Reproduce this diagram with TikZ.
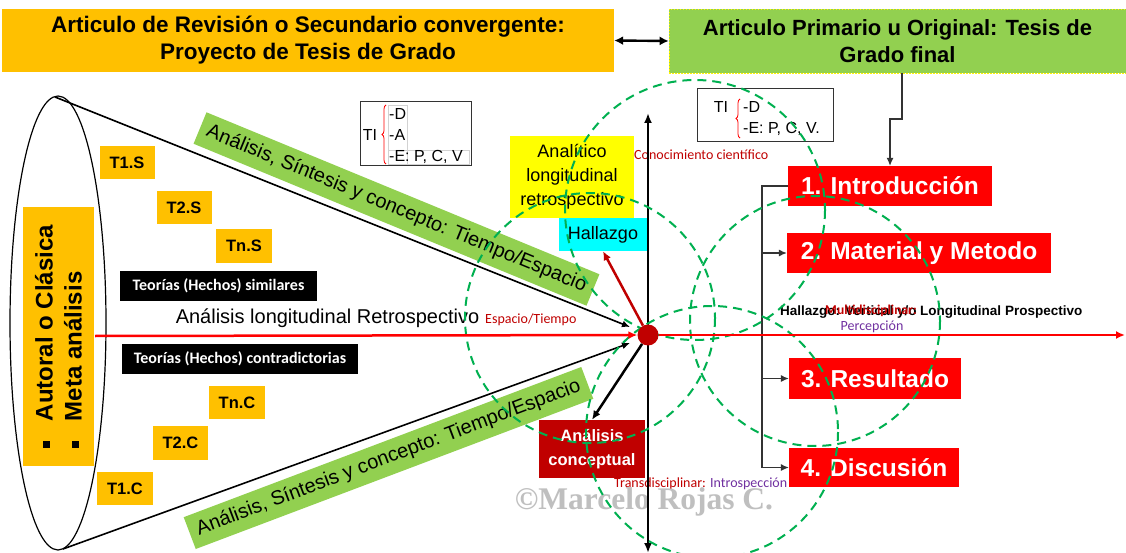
\documentclass[tikz,border=0pt]{standalone}
\usepackage{fontspec}
\setmainfont{Liberation Sans}
\newfontfamily\calib{Carlito}
\newfontfamily\wmfont{Liberation Serif}
\usetikzlibrary{arrows.meta,decorations.pathreplacing}
\definecolor{orangeA}{HTML}{FFC000}
\definecolor{greenA}{HTML}{92D050}
\definecolor{greenD}{HTML}{00B050}
\definecolor{redA}{HTML}{FF0000}
\definecolor{redD}{HTML}{C00000}
\definecolor{purpleA}{HTML}{7030A0}
\definecolor{wmgray}{HTML}{BFBFBF}
\definecolor{cyanA}{HTML}{00FFFF}
\definecolor{yellowA}{HTML}{FFFF00}
\newcommand\fsz[2]{\fontsize{#1}{#2}\selectfont}
\begin{document}
\begin{tikzpicture}[x=1pt,y=-1pt,
  bx/.style={inner sep=0pt, align=center},
  tbox/.style={bx, fill=orangeA, minimum width=55pt, minimum height=33pt, font=\fsz{16.5}{18}\bfseries},
  kbox/.style={bx, fill=black, text=white, minimum height=30pt, font=\calib\fsz{16}{18}\bfseries},
  rbox/.style={bx, fill=redA, text=white, minimum height=40pt, font=\fsz{24.5}{28}\bfseries},
  band/.style={bx, fill=greenA, minimum width=425pt, minimum height=34pt, font=\fsz{20}{22}},
  lbl/.style={inner sep=0pt, font=\calib\fsz{14}{16}},
  titxt/.style={inner sep=0pt, anchor=west, font=\fsz{16}{17}},
  gc/.style={draw=greenD, line width=2pt, dash pattern=on 9pt off 6pt},
  conn/.style={draw=black!80, line width=1.1pt},
  ah/.style={-{Latex[length=8pt,width=7pt]}},
  coneline/.style={line width=1.6pt, ah},
]
\useasboundingbox (0,0) rectangle (1126,553);
\clip (0,0) rectangle (1126,553);
\fill[white] (0,0) rectangle (1126,553);

% ---------- cone ----------
\draw[line width=1.2pt] (58,323) ellipse [x radius=48, y radius=227];
\coordinate (ctop) at (55,97);
\coordinate (cbot) at (63,549);
\coordinate (apT) at (630,327);
\coordinate (apB) at (630,343);
\draw[coneline] (ctop) -- (apT);
\draw[coneline] (cbot) -- (apB);

\node[bx, fill=orangeA, rotate=90, minimum width=259pt, minimum height=71pt,
      align=left, font=\fsz{24}{29}\bfseries] (aut) at (58.5,336.5)
  {\rule[3pt]{7pt}{7pt}\hspace{20pt}Autoral o Clásica\\\rule[3pt]{7pt}{7pt}\hspace{20pt}Meta análisis};

\node[tbox] (t1s) at (127,162.5) {T1.S};
\node[tbox] (t2s) at (184,207.5) {T2.S};
\node[tbox, minimum width=56pt, minimum height=34pt] (tns) at (244,246) {Tn.S};
\node[tbox, minimum width=56pt] (tnc) at (237,402.5) {Tn.C};
\node[tbox, minimum height=34pt] (t2c) at (180.5,443) {T2.C};
\node[tbox, minimum width=56pt] (t1c) at (125,488.5) {T1.C};

\node[kbox, minimum width=197pt] (sim) at (218.5,286) {Teorías (Hechos) similares};
\node[kbox, minimum width=236pt] (con) at (240,359) {Teorías (Hechos) contradictorias};

\path (200,128) -- (593,290) node[band, midway, sloped] (b1) {Análisis, Síntesis y concepto: Tiempo/Espacio};
\path (190,533) -- (587,383) node[band, midway, sloped] (b2) {Análisis, Síntesis y concepto: Tiempo/Espacio};

\node[inner sep=0pt, font=\fsz{20}{22}] (alr) at (327.5,318) {Análisis longitudinal Retrospectivo};
\node[lbl, text=redD, anchor=west] (et) at (485,320) {Espacio/Tiempo};

% ---------- top boxes ----------
\node[bx, fill=orangeA, minimum width=612pt, minimum height=63pt, font=\fsz{22.5}{27}\bfseries] (art) at (308,40.5)
  {Articulo de Revisión o Secundario convergente:\\Proyecto de Tesis de Grado};
\node[bx, fill=greenA, draw=yellow, line width=0.6pt, dash pattern=on 1.5pt off 1.5pt,
      minimum width=457pt, minimum height=64pt, font=\fsz{22}{27}\bfseries] (prim) at (897.5,41)
  {Articulo Primario u Original: Tesis de\\Grado final};
\draw[line width=2.4pt, {Latex[length=9pt,width=9pt]}-{Latex[length=9pt,width=9pt]}] (art.east) -- (prim.west);

% ---------- TI boxes ----------
\node[draw=black!80, line width=1pt, minimum width=111pt, minimum height=64pt, inner sep=0pt] (ti1) at (415.5,134) {};
\draw[gray!35, line width=0.6pt] (388,105) rectangle (407,164);
\draw[gray!35, line width=0.6pt] (388,150) rectangle (469,164);
\node[titxt, anchor=center] (ti1t) at (370,135) {TI};
\draw[redA, line width=0.8pt, decorate, decoration={brace, amplitude=4pt}] (386,164) -- (386,105);
\node[titxt] (ti1d) at (389,114) {-D};
\node[titxt] (ti1a) at (389,135) {-A};
\node[titxt] (ti1e) at (389,157) {-E: P, C, V};

\node[draw=black!80, line width=1pt, minimum width=136pt, minimum height=53pt, inner sep=0pt] (ti2) at (765,115.5) {};
\node[titxt, anchor=center] (ti2t) at (721,107) {TI};
\draw[redA, line width=0.8pt, decorate, decoration={brace, amplitude=4pt}] (740,138) -- (740,99);
\node[titxt] (ti2d) at (743,107) {-D};
\node[titxt] (ti2e) at (743,129) {-E: P, C, V.};

% ---------- central boxes ----------
\node[bx, fill=yellowA, minimum width=124pt, minimum height=82pt, font=\fsz{18}{24}] (yel) at (572,177)
  {Analítico\\longitudinal\\retrospectivo};
\node[bx, fill=cyanA, minimum width=88pt, minimum height=33pt, font=\fsz{18}{19}] (hz) at (603,234.5) {Hallazgo};
\node[bx, fill=redD, text=white, minimum width=106pt, minimum height=58pt, font=\fsz{16.5}{24}\bfseries] (ac) at (592,449)
  {Análisis\\conceptual};

\node[lbl, text=redD, anchor=west] (ccl) at (634,155) {Conocimiento científico};
\node[lbl, anchor=west] (tr) at (614,484) {\textcolor{redD}{Transdisciplinar:} \textcolor{purpleA}{Introspección}};
\node[inner sep=0pt, text=wmgray, font=\wmfont\fsz{31.5}{33}\bfseries] (wmk) at (644,502) {©Marcelo Rojas C.};

% ---------- red boxes ----------
\node[rbox, minimum width=204pt] (intro) at (890,186) {1. Introducción};
\node[rbox, minimum width=264pt] (mat) at (919,253) {2. Material y Metodo};
\node[rbox, minimum width=172pt, minimum height=41pt] (res) at (875,378.5) {3. Resultado};
\node[rbox, minimum width=170pt, minimum height=39pt] (disc) at (874,467.5) {4. Discusión};

\draw[conn, ah] ([xshift=4.5pt]prim.south) |- (890,119) -- (intro.north);
\coordinate (bT) at (762,186);
\coordinate (bB) at (762,467.5);
\draw[conn] (intro.west) -- (bT) -- (bB);
\draw[conn, ah] (bT |- mat.west) -- (mat.west);
\draw[conn, ah] (bT |- res.west) -- (res.west);
\draw[conn, ah] (bB) -- (disc.west);

\node[inner sep=0pt, anchor=west, font=\fsz{13.5}{15}\bfseries] (hv) at (780,312) {Hallazgo: Vertical y/o Longitudinal Prospectivo};
\node[inner sep=0pt, anchor=west, text=redD, font=\calib\fsz{13.5}{15}\bfseries] (md) at (825,311) {Multidisciplinar:};
\node[lbl, text=purpleA] (pc) at (872,327) {Percepción};

% ---------- axis ----------
\coordinate (axT) at (648,113);
\coordinate (axB) at (648,553);
\draw[line width=2.6pt, {Latex[length=10pt,width=8pt]}-{Latex[length=10pt,width=8pt]}] (axB) -- (axT);

% ---------- dashed circles ----------
\draw[gc] (695,210) circle [radius=130];
\draw[gc] (590,318) circle [radius=125];
\draw[gc] (815,321) circle [radius=125];
\draw[gc] (712,432) circle [radius=126];

% ---------- dot and red lines ----------
\node[circle, fill=redD, minimum size=21pt, inner sep=0pt] (dot) at (648,335) {};
\coordinate (rl) at (95,336);
\coordinate (rr) at (1125,335);
\draw[redA, line width=2.5pt, -{Latex[length=9pt,width=8pt]}] (rl) -- (dot);
\draw[redA, line width=2.5pt, -{Latex[length=9pt,width=8pt]}] (dot) -- (rr);
\draw[redD, line width=2.5pt, -{Latex[length=9pt,width=8pt]}] (dot) -- (hz.south);
\draw[black, line width=2.5pt, -{Latex[length=9pt,width=8pt]}] (dot) -- (ac.north);
\end{tikzpicture}
\end{document}
